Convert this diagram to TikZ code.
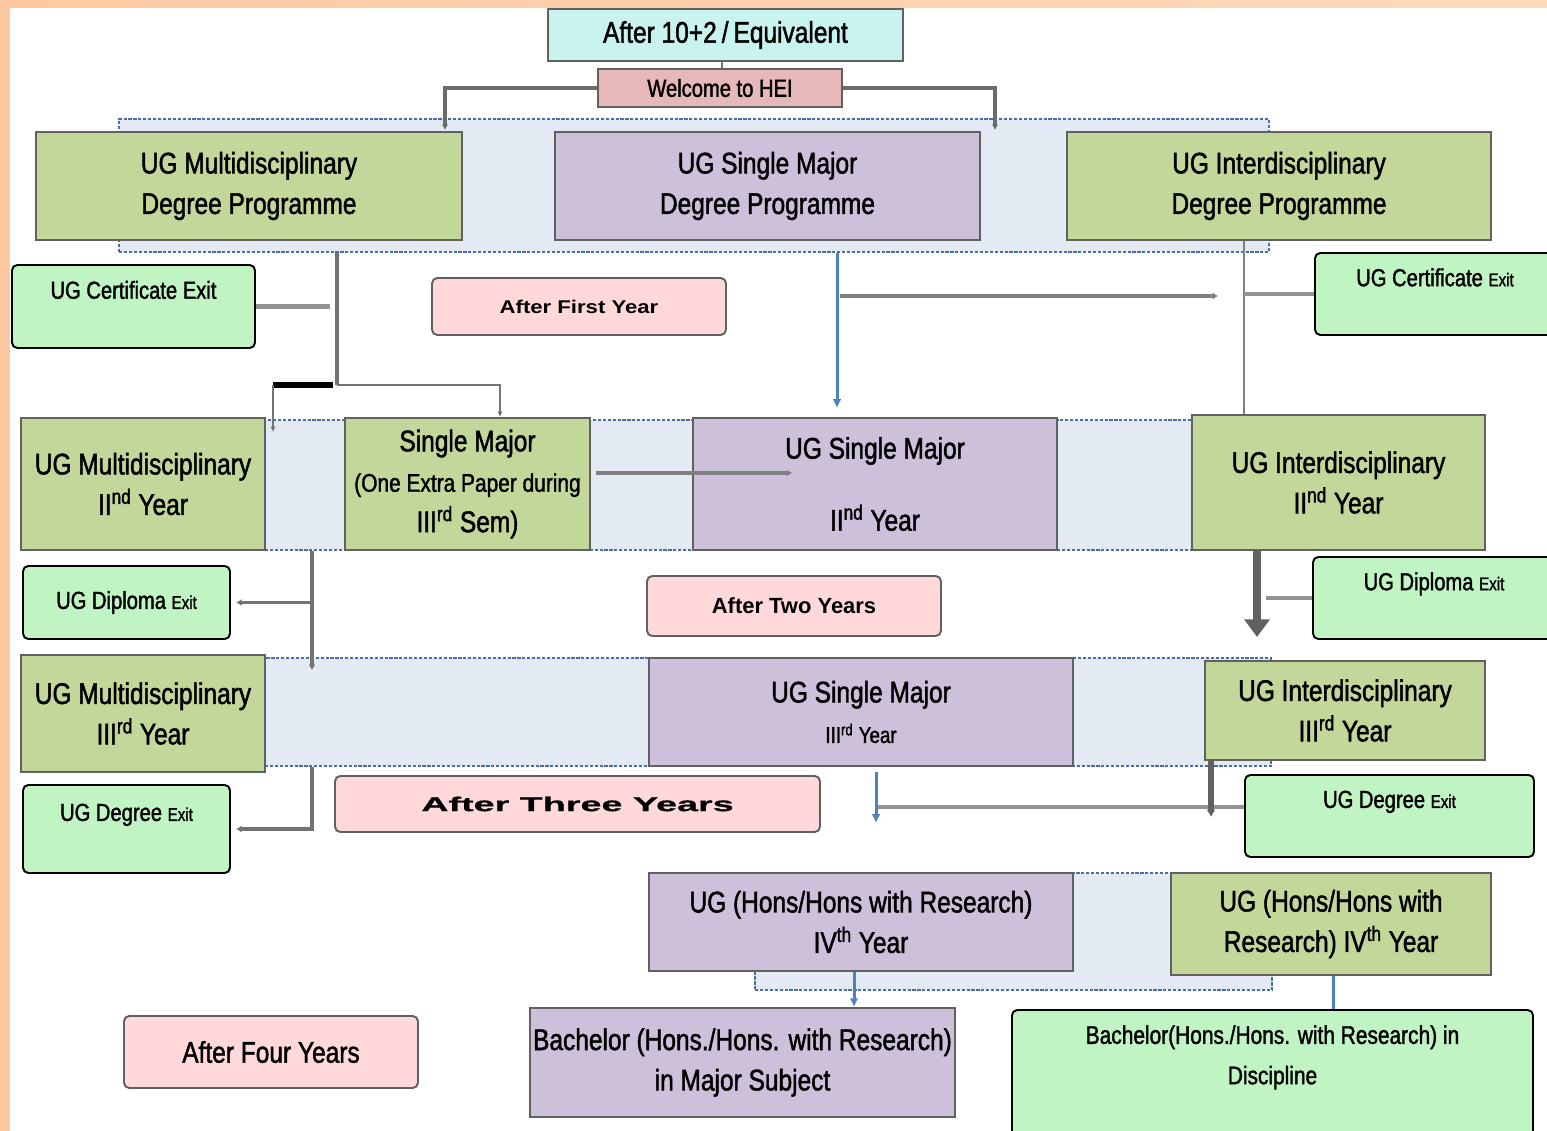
\documentclass[tikz,border=0pt]{standalone}
\usepackage{fontspec}
\setmainfont{Liberation Sans}[FakeStretch=0.82, FakeBold=1.5]
\newfontfamily\stageface{Liberation Sans}
\newfontfamily\wideface{Liberation Sans}[FakeStretch=1.2]
\newfontfamily\broadface{Liberation Sans}[FakeStretch=1.9, FakeBold=0.8]
\usetikzlibrary{fit,arrows.meta}
\definecolor{olivebox}{HTML}{C4D79B}
\definecolor{lilacbox}{HTML}{CCC0DA}
\definecolor{mintbox}{HTML}{C1F4C3}
\definecolor{pinkbox}{HTML}{FFD9D9}
\definecolor{cyanbox}{HTML}{C8F3EE}
\definecolor{rosebox}{HTML}{E6B9B8}
\definecolor{bandfill}{HTML}{E4EAF4}
\definecolor{bandline}{HTML}{4A6FA5}
\definecolor{linkblue}{HTML}{4F81BD}
\definecolor{peach}{HTML}{FDC9A0}
\newcommand\boxfont{\fontsize{17}{23}\selectfont}
\newcommand\exitfont{\fontsize{14}{19}\selectfont}
\newcommand\exitword{{\fontsize{10.5}{10.5}\selectfont Exit}}

\begin{document}
\begin{tikzpicture}[x=0.02cm, y=-0.02cm, >=Latex,
  rectbox/.style={draw=black!62, line width=1.1pt, inner sep=0pt, align=center, font=\boxfont},
  olive/.style={rectbox, fill=olivebox},
  lilac/.style={rectbox, fill=lilacbox},
  exitbox/.style={draw=black, line width=1.1pt, rounded corners=3pt, fill=mintbox, inner sep=0pt, align=center, font=\exitfont},
  stagebox/.style={draw=black!62, line width=1.1pt, rounded corners=3pt, fill=pinkbox, inner sep=0pt, align=center},
  band/.style={draw=bandline, line width=1pt, dash pattern=on 1.8pt off 1pt, fill=bandfill, inner sep=0pt},
  arm/.style={draw=black!58, line width=2.2pt, -{Latex[length=3pt,width=3.5pt]}},
  stem/.style={draw=black!55, line width=2.2pt},
  spur/.style={draw=black!42, line width=2.6pt},
  tip/.style={-{Latex[length=3pt,width=4pt]}},
  twig/.style={draw=black!55, line width=1.2pt, -{Latex[length=3pt,width=3pt]}},
  push/.style={draw=black!50, line width=2.8pt, -{Latex[length=3pt,width=4pt]}},
  heavy/.style={draw=black!62, line width=5pt, -{Triangle[length=10pt,width=14pt]}},
  bluelink/.style={draw=linkblue, line width=1.7pt},
  bluearrow/.style={bluelink, -{Latex[length=5pt,width=5pt]}}]

\newcommand\ugbox[5]{\node[#1, fit={#3 #4}] (#2) {};
  \node[#1, draw=none, fill=none, at={(#2.center)}] (#2-text) {#5};}

\useasboundingbox (0,0) rectangle (1547,1131);
\clip (0,0) rectangle (1547,1131);
\fill[white] (0,0) rectangle (1547,1131);
\fill[peach] (0,0) rectangle (10,1131);
\shade[left color=peach, right color=peach!70] (0,0) rectangle (1547,8);

\node[band, fit={(119,119) (1269,252)}] (bandA) {};
\node[band, fit={(265,420) (1192,550)}] (bandB) {};
\node[band, fit={(265,658) (1271,766)}] (bandC) {};
\node[band, fit={(755,873) (1272,990)}] (bandD) {};

\ugbox{rectbox, fill=cyanbox}{entry}{(548,9)}{(903,61)}{After 10+2\,/\,Equivalent}
\ugbox{rectbox, fill=rosebox, font=\exitfont}{hei}{(598,69)}{(842,107)}{Welcome to HEI}
\ugbox{olive}{multiA}{(36,132)}{(462,240)}{UG Multidisciplinary\\Degree Programme}
\ugbox{lilac}{ssmA}{(555,132)}{(980,240)}{UG Single Major\\Degree Programme}
\ugbox{olive}{interA}{(1067,132)}{(1491,240)}{UG Interdisciplinary\\Degree Programme}
\ugbox{exitbox}{certL}{(12,265)}{(255,348)}{UG Certificate Exit\\\mbox{}}
\ugbox{stagebox, font={\wideface\bfseries\fontsize{10.5}{12}\selectfont}}{yearA}{(432,278)}{(726,335)}{After First Year}
\ugbox{exitbox}{certR}{(1315,253)}{(1555,335)}{UG Certificate \exitword\\\mbox{}}
\ugbox{olive}{multiB}{(21,418)}{(265,550)}{UG Multidisciplinary\\II\textsuperscript{nd} Year}
\ugbox{olive}{smx}{(345,418)}{(590,550)}{Single Major\\{\fontsize{14.5}{20}\selectfont(One Extra Paper during}\\III\textsuperscript{rd} Sem)}
\ugbox{lilac}{ssmB}{(693,418)}{(1057,550)}{UG Single Major\\[18pt]II\textsuperscript{nd} Year}
\ugbox{olive}{interB}{(1192,415)}{(1485,550)}{UG Interdisciplinary\\II\textsuperscript{nd} Year}
\ugbox{exitbox}{dipL}{(23,566)}{(230,639)}{UG Diploma \exitword}
\ugbox{stagebox, font={\stageface\bfseries\fontsize{12.5}{14}\selectfont}}{yearB}{(647,576)}{(941,636)}{After Two Years}
\ugbox{exitbox}{dipR}{(1313,557)}{(1555,639)}{UG Diploma \exitword\\\mbox{}}
\ugbox{olive}{multiC}{(21,655)}{(265,772)}{UG Multidisciplinary\\III\textsuperscript{rd} Year}
\ugbox{lilac}{ssmC}{(649,658)}{(1073,766)}{UG Single Major\\{\fontsize{13}{16}\selectfont III\textsuperscript{rd} Year}}
\ugbox{olive}{interC}{(1205,661)}{(1485,760)}{UG Interdisciplinary\\III\textsuperscript{rd} Year}
\ugbox{exitbox}{degL}{(23,785)}{(230,873)}{UG Degree \exitword\\\mbox{}}
\ugbox{stagebox, font={\broadface\bfseries\fontsize{11.3}{13}\selectfont}}{yearC}{(335,776)}{(820,832)}{After Three Years}
\ugbox{exitbox}{degR}{(1245,775)}{(1534,857)}{UG Degree \exitword\\\mbox{}}
\ugbox{lilac}{honsA}{(649,873)}{(1073,971)}{UG (Hons/Hons with Research)\\IV\textsuperscript{th} Year}
\ugbox{olive}{honsB}{(1171,873)}{(1491,975)}{UG (Hons/Hons with\\Research) IV\textsuperscript{th} Year}
\ugbox{stagebox, font=\boxfont}{yearD}{(124,1016)}{(418,1088)}{After Four Years}
\ugbox{lilac}{bachA}{(530,1008)}{(955,1117)}{Bachelor (Hons./Hons. with Research)\\in Major Subject}
\ugbox{exitbox, font={\fontsize{14.5}{23}\selectfont}}{bachB}{(1012,1010)}{(1533,1140)}{Bachelor(Hons./Hons. with Research) in\\Discipline\\\mbox{}}

\coordinate (armL) at (445,130);
\coordinate (armR) at (995,130);
\coordinate (forkA) at (337,385);
\coordinate (dropA) at (273,385);
\coordinate (dropAend) at (273,432);
\coordinate (hopC) at (500,417);
\coordinate (blueA) at (837,408);
\coordinate (pushA) at (840,296);
\coordinate (pushAend) at (1218,296);
\coordinate (stemB) at (1244,300);
\coordinate (pushB) at (792,473);
\coordinate (dropB) at (312,670);
\coordinate (heavyA) at (1257,637);
\coordinate (dropC) at (312,826);
\coordinate (blueB) at (876,823);
\coordinate (joinC) at (878,807);
\coordinate (dropD) at (1211,817);
\coordinate (blueC) at (854,990);
\coordinate (blueD) at (1333,990);

\draw[draw=black!55, line width=1.1pt] (entry.south -| 722,0) -- (hei.north -| 722,0);
\draw[arm] (hei.west) -| (armL);
\draw[arm] (hei.east) -| (armR);

\draw[stem] (bandA.south -| forkA) -- (forkA);
\draw[spur, shorten >=4pt] (certL.east) -- (certL.east -| forkA);
\draw[black, line width=3.4pt, shorten <=2.5pt] (forkA) -- (dropA);
\draw[twig] (dropA) -- (dropAend);
\draw[twig] (forkA) -| (hopC);

\draw[bluearrow] (bandA.south -| blueA) -- (blueA);
\draw[push] (pushA) -- (pushAend);
\draw[draw=black!50, line width=1.4pt] (interA.south -| stemB) -- (interB.north -| stemB);
\draw[spur] (certR.west) -- (certR.west -| stemB);

\draw[push, shorten <=3pt] (smx.east |- pushB) -- (pushB);

\draw[stem, tip] (bandB.south -| dropB) -- (dropB);
\draw[stem, tip, shorten >=3pt] (dipL.east -| dropB) -- (dipL.east);
\draw[heavy] (interB.south -| heavyA) -- (heavyA);
\draw[spur, shorten >=5pt] (dipR.west) -- (dipR.west -| heavyA);

\draw[stem, tip, shorten >=3pt] (bandC.south -| dropC) |- (degL.east);
\draw[bluearrow, shorten <=3pt] (ssmC.south -| blueB) -- (blueB);
\draw[spur] (joinC) -- (degR.west |- joinC);
\draw[heavy, line width=3pt, -{Latex[length=4pt,width=5pt]}] (interC.south -| dropD) -- (dropD);

\draw[bluearrow] (honsA.south -| blueC) -- (bachA.north -| blueC);
\draw[bluelink] (honsB.south -| blueD) -- (bachB.north -| blueD);

\end{tikzpicture}
\end{document}
